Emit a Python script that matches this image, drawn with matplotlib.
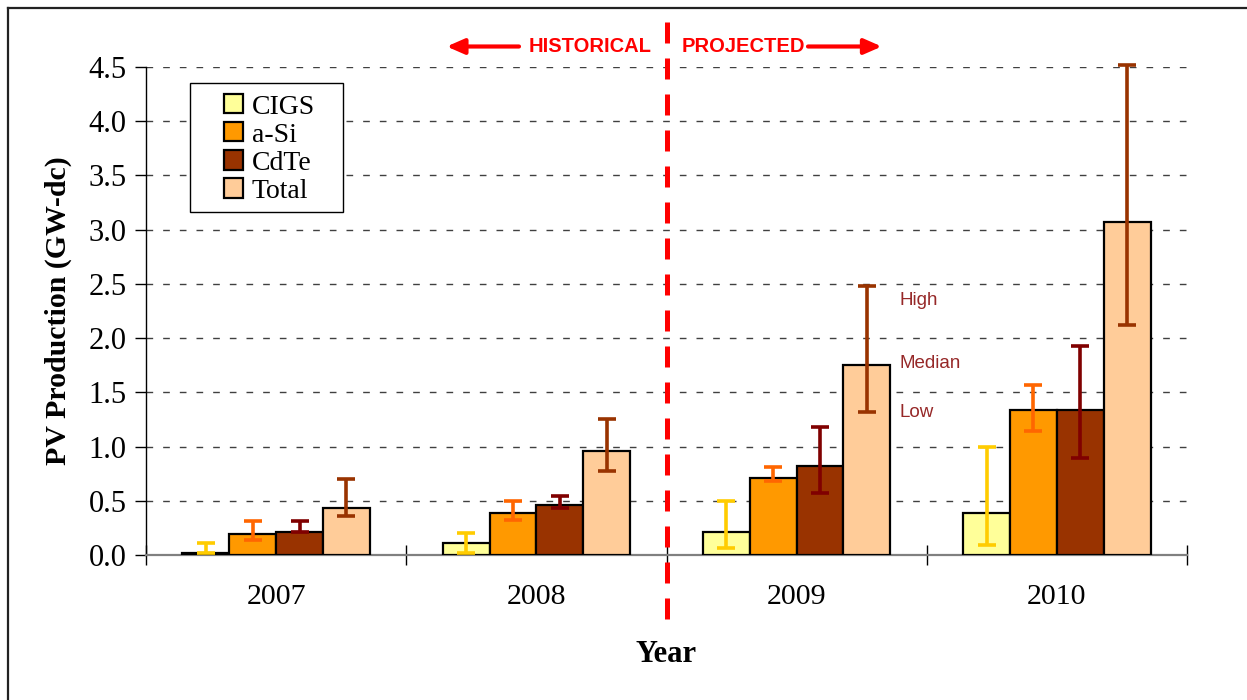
import matplotlib
matplotlib.use("Agg")
import matplotlib.pyplot as plt
import numpy as np
from matplotlib.lines import Line2D
from matplotlib.patches import Rectangle, FancyArrowPatch

# ── data (GW-dc), median with low / high range ───────────────────────────────
YEARS = ["2007", "2008", "2009", "2010"]
SERIES = ["CIGS", "a-Si", "CdTe", "Total"]

CIGS_MED  = [0.02, 0.11, 0.21, 0.39]
CIGS_LOW  = [0.02, 0.02, 0.06, 0.09]
CIGS_HIGH = [0.11, 0.20, 0.50, 1.00]

ASI_MED  = [0.19, 0.39, 0.71, 1.34]
ASI_LOW  = [0.14, 0.32, 0.68, 1.14]
ASI_HIGH = [0.31, 0.50, 0.81, 1.57]

CDTE_MED  = [0.21, 0.46, 0.82, 1.34]
CDTE_LOW  = [0.21, 0.43, 0.57, 0.89]
CDTE_HIGH = [0.31, 0.54, 1.18, 1.93]

TOTAL_MED  = [0.43, 0.96, 1.75, 3.07]
TOTAL_LOW  = [0.36, 0.77, 1.32, 2.12]
TOTAL_HIGH = [0.70, 1.25, 2.48, 4.52]

BAR_COLORS = ["#FFFF99", "#FF9900", "#993300", "#FFCC99"]
ERR_COLORS = ["#FFCC00", "#FF6600", "#800000", "#993300"]
NOTE_COLOR = "#962828"

SERIF = "Liberation Serif"
SANS  = "Liberation Sans"

meds  = [CIGS_MED, ASI_MED, CDTE_MED, TOTAL_MED]
lows  = [CIGS_LOW, ASI_LOW, CDTE_LOW, TOTAL_LOW]
highs = [CIGS_HIGH, ASI_HIGH, CDTE_HIGH, TOTAL_HIGH]

fig = plt.figure(figsize=(12.47, 7.0), dpi=100)
ax = fig.add_axes([146 / 1247, 1 - 555 / 700, 1041 / 1247, 488 / 700])

x = np.arange(len(YEARS))
w = 0.18
for i, name in enumerate(SERIES):
    pos = x + (i - 1.5) * w
    med = np.array(meds[i])
    ax.bar(pos, med, width=w, color=BAR_COLORS[i], edgecolor="black",
           linewidth=1.6, zorder=3, label=name)
    yerr = [med - np.array(lows[i]), np.array(highs[i]) - med]
    ax.errorbar(pos, med, yerr=yerr, fmt="none", ecolor=ERR_COLORS[i],
                elinewidth=2.6, capsize=6.2, capthick=2.6, zorder=4,
                clip_on=False)

# ── axes styling ─────────────────────────────────────────────────────────────
ax.set_xlim(-0.5, len(YEARS) - 0.5)
ax.set_ylim(0, 4.5)
ax.set_yticks(np.arange(0, 4.51, 0.5))
ax.set_yticklabels([f"{v:.1f}" for v in np.arange(0, 4.51, 0.5)],
                   fontfamily=SERIF, fontsize=22)
ax.tick_params(axis="y", direction="out", length=8, width=1, pad=6)

ax.set_xticks(np.arange(-0.5, len(YEARS), 1.0))
ax.set_xticklabels([])
ax.tick_params(axis="x", which="major", direction="inout", length=14.4, width=1)
ax.set_xticks(x, minor=True)
ax.set_xticklabels(YEARS, minor=True, fontfamily=SERIF, fontsize=21.5)
ax.tick_params(axis="x", which="minor", length=0, pad=21)

for s in ["top", "right"]:
    ax.spines[s].set_visible(False)
ax.spines["left"].set_linewidth(1)
ax.spines["bottom"].set_color("#808080")
ax.spines["bottom"].set_linewidth(1.6)

ax.set_axisbelow(True)
ax.yaxis.grid(True, color="#404040", linewidth=1, linestyle=(0, (4.8, 7.2)))

ax.set_ylabel("PV Production (GW-dc)", fontfamily=SERIF, fontsize=21.5,
              fontweight="bold")
ax.yaxis.set_label_coords(-0.071, 0.5)
ax.set_xlabel("Year", fontfamily=SERIF, fontsize=22, fontweight="bold")
ax.xaxis.set_label_coords(0.5, -0.175)

# ── legend in a hand-drawn box ───────────────────────────────────────────────
box = Rectangle((0.0423, 0.703), 0.147, 0.264, transform=ax.transAxes,
                facecolor="white", edgecolor="black", linewidth=1, zorder=6)
ax.add_patch(box)
leg = ax.legend(loc="upper left", bbox_to_anchor=(0.0749, 0.944),
                frameon=False, borderaxespad=0, borderpad=0,
                prop={"family": SERIF, "size": 20},
                handlelength=0.68, handleheight=0.68, handletextpad=0.32,
                labelspacing=0.1)
leg.set_zorder(7)

# ── historical / projected divider ───────────────────────────────────────────
ax.plot([1.5, 1.5], [-0.59, 5.02], color="red", linewidth=3.6,
        linestyle=(0, (4.2, 3.0)), clip_on=False, zorder=5)

ty = 1 - 46.5 / 700
fig.text(651.7 / 1247, ty, "HISTORICAL", color="red", fontfamily=SANS,
         fontweight="bold", fontsize=14.5, ha="right", va="center")
fig.text(681.7 / 1247, ty, "PROJECTED", color="red", fontfamily=SANS,
         fontweight="bold", fontsize=14.5, ha="left", va="center")
for x0, x1 in [(519, 446.7), (808, 881.7)]:
    arr = FancyArrowPatch((x0 / 1247, ty), (x1 / 1247, ty),
                          transform=fig.transFigure, color="red",
                          arrowstyle="-|>,head_length=10.5,head_width=4.6",
                          mutation_scale=1, linewidth=3.0,
                          shrinkA=0, shrinkB=0)
    fig.add_artist(arr)

# ── High / Median / Low notes beside 2009 total ─────────────────────────────
note_x = 2.397
ax.text(note_x, TOTAL_HIGH[2] - 0.13, "High", color=NOTE_COLOR,
        fontfamily=SANS, fontsize=13.5, ha="left", va="center")
ax.text(note_x, TOTAL_MED[2] + 0.02, "Median", color=NOTE_COLOR,
        fontfamily=SANS, fontsize=13.5, ha="left", va="center")
ax.text(note_x, TOTAL_LOW[2] - 0.01, "Low", color=NOTE_COLOR,
        fontfamily=SANS, fontsize=13.5, ha="left", va="center")

# ── outer frame (top and left edges visible) ────────────────────────────────
fig.add_artist(Line2D([8 / 1247, 1.0], [1 - 8 / 700, 1 - 8 / 700],
                      transform=fig.transFigure, color="#222222", linewidth=1.6))
fig.add_artist(Line2D([8 / 1247, 8 / 1247], [0.0, 1 - 8 / 700],
                      transform=fig.transFigure, color="#222222", linewidth=1.6))

fig.savefig("out.png", dpi=100)
